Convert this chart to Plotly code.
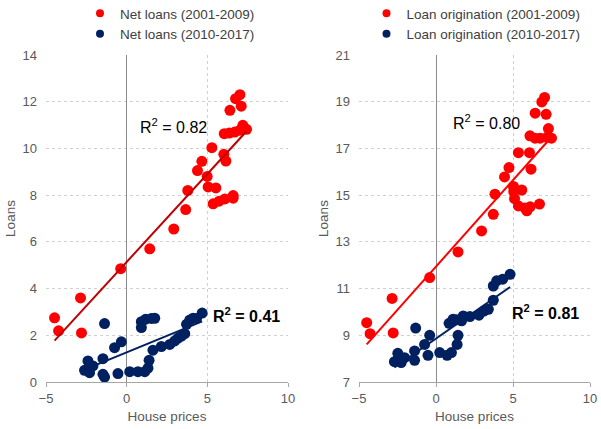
import numpy as np
import plotly.graph_objects as go

# ---------------- data ----------------
net_early_hp = [-4.47, -4.22, -2.86, -2.80, -0.37, 1.43, 2.92, 3.66, 3.79, 4.39, 4.66, 4.99,
                5.05, 5.28, 5.53, 5.36, 5.73, 6.09, 6.60, 6.60, 6.02, 6.15, 6.05, 6.36,
                6.70, 7.02, 7.20, 7.43, 7.10, 6.40, 6.75, 7.02]
net_early_loans = [2.75, 2.19, 3.60, 2.10, 4.85, 5.70, 6.55, 7.38, 8.20, 9.05, 9.45, 8.80,
                   8.35, 10.03, 8.31, 7.63, 7.74, 7.84, 7.98, 7.87, 9.75, 9.46, 10.63, 10.66,
                   10.70, 10.78, 10.99, 10.82, 11.81, 11.63, 12.13, 12.30]

net_late_hp = [-2.61, -2.30, -2.40, -2.09, -1.47, -1.47, -1.37, -1.37, -0.75, -0.33, -0.54,
               0.19, 0.70, 1.12, 1.32, 1.39, 1.63, 0.91, 0.91, 1.18, 1.53, 1.74, 2.15,
               2.67, 2.98, 3.19, 3.40, 3.60, 3.71, 3.91, 4.12, 4.33, 4.68]
net_late_loans = [0.50, 0.40, 0.90, 0.69, 1.00, 0.33, 0.21, 2.50, 1.47, 1.72, 0.36,
                  0.44, 0.44, 0.44, 0.59, 0.93, 1.36, 2.58, 2.33, 2.69, 2.72, 2.73, 1.52,
                  1.61, 1.76, 1.88, 1.97, 2.07, 2.47, 2.65, 2.73, 2.72, 2.95]

orig_early_hp = [-4.50, -4.28, -2.85, -2.78, -0.41, 1.43, 2.96, 3.72, 3.83, 4.45, 4.74, 5.03,
                 5.05, 5.10, 5.57, 5.35, 5.78, 5.90, 6.11, 6.72, 5.35, 6.07, 6.17, 6.10,
                 6.43, 6.76, 7.20, 7.50, 7.30, 6.44, 7.15, 6.87, 7.05]
orig_early_loans = [9.54, 9.07, 10.58, 9.10, 11.47, 12.57, 13.47, 14.18, 15.04, 15.78, 16.18, 15.37,
                    15.15, 14.85, 15.22, 14.54, 14.45, 14.33, 14.50, 14.62, 16.82, 16.82, 16.11, 17.54,
                    17.44, 17.44, 17.47, 17.44, 17.85, 18.51, 18.46, 18.99, 19.18]

orig_late_hp = [-2.70, -2.26, -2.04, -2.48, -2.50, -1.39, -1.39, -1.32, -0.74, -0.41, -0.52,
                0.24, 0.72, 1.00, 1.37, 1.43, 0.85, 1.11, 1.33, 1.66, 1.77, 2.20, 2.79,
                3.11, 3.40, 3.72, 3.72, 3.94, 4.33, 4.81]
orig_late_loans = [7.87, 7.83, 8.04, 8.23, 7.95, 8.33, 7.93, 9.31, 8.61, 9.00, 8.14,
                   8.26, 8.14, 8.26, 8.61, 9.00, 9.51, 9.69, 9.66, 9.62, 9.83, 9.80, 9.86,
                   10.04, 10.11, 10.50, 11.11, 11.33, 11.40, 11.61]

legend_names_left = ["Net loans (2001-2009)", "Net loans (2010-2017)"]
legend_names_right = ["Loan origination (2001-2009)", "Loan origination (2010-2017)"]
r2_labels = ["R<sup>2</sup> = 0.82", "<b>R<sup>2</sup> = 0.41</b>",
             "R<sup>2</sup> = 0.80", "<b>R<sup>2</sup> = 0.81</b>"]
x_ticks = [-5, 0, 5, 10]
y_ticks_left = [0, 2, 4, 6, 8, 10, 12, 14]
y_ticks_right = [7, 9, 11, 13, 15, 17, 19, 21]

RED = "#FF0000"
NAVY = "#002060"
FONT = "Liberation Sans, Arial, sans-serif"


def trend(x, y):
    x = np.asarray(x, float)
    y = np.asarray(y, float)
    b, a = np.polyfit(x, y, 1)
    xs = np.array([x.min(), x.max()])
    return xs, a + b * xs


fig = go.Figure()

series = [
    (net_early_hp, net_early_loans, RED, "#C00000", legend_names_left[0], "x", "y", "legend"),
    (net_late_hp, net_late_loans, NAVY, NAVY, legend_names_left[1], "x", "y", "legend"),
    (orig_early_hp, orig_early_loans, RED, RED, legend_names_right[0], "x2", "y2", "legend2"),
    (orig_late_hp, orig_late_loans, NAVY, NAVY, legend_names_right[1], "x2", "y2", "legend2"),
]

for xs_, ys_, mcol, lcol, name, xa, ya, lg in series:
    fig.add_trace(go.Scatter(x=xs_, y=ys_, mode="markers", name=name,
                             marker=dict(color=mcol, size=11), xaxis=xa, yaxis=ya,
                             legend=lg, showlegend=False))
    tx, ty = trend(xs_, ys_)
    fig.add_trace(go.Scatter(x=tx, y=ty, mode="lines", line=dict(color=lcol, width=2),
                             xaxis=xa, yaxis=ya, showlegend=False, hoverinfo="skip"))
    # legend entry (smaller dot like the original legend)
    fig.add_trace(go.Scatter(x=[None], y=[None], mode="markers", name=name,
                             marker=dict(color=mcol, size=8), xaxis=xa, yaxis=ya,
                             legend=lg, showlegend=True, legendgroup=name))

grid = dict(showgrid=True, gridcolor="#D0D0D0", griddash="dot", gridwidth=1)
tickfont = dict(family=FONT, size=13, color="#595959")
titlefont = dict(family=FONT, size=13.5, color="#595959")

xcommon = dict(range=[-5, 10], tickvals=x_ticks, showline=True, linecolor="#A6A6A6",
               linewidth=1, ticks="outside", ticklen=4, tickcolor="#A6A6A6",
               zeroline=True, zerolinecolor="#8C8C8C", zerolinewidth=1, automargin=False,
               tickfont=tickfont, title=dict(text="House prices", font=titlefont, standoff=6),
               **grid)
ycommon = dict(showline=False, zeroline=False, ticks="", ticklabelstandoff=8, automargin=False,
               tickfont=tickfont, title=dict(text="Loans", font=titlefont, standoff=3), **grid)

legend_style = dict(xanchor="center", y=1 + 2 / 429, yanchor="top",
                    bgcolor="rgba(0,0,0,0)", font=dict(family=FONT, size=13.5, color="#404040"),
                    traceorder="grouped", tracegroupgap=0, itemwidth=30)

fig.update_layout(
    width=601, height=429,
    margin=dict(l=0, r=0, t=0, b=0, autoexpand=False),
    paper_bgcolor="white", plot_bgcolor="white",
    font=dict(family=FONT, color="#404040"),
    xaxis=dict(domain=[46 / 601, 288 / 601], anchor="y", **xcommon),
    xaxis2=dict(domain=[359 / 601, 590 / 601], anchor="y2", **xcommon),
    yaxis=dict(domain=[47 / 429, 374 / 429], anchor="x", range=[0, 14], tickvals=y_ticks_left,
               **ycommon),
    yaxis2=dict(domain=[47 / 429, 374 / 429], anchor="x2", range=[7, 21], tickvals=y_ticks_right,
                **ycommon),
    legend=dict(x=170 / 601, **legend_style),
    legend2=dict(x=476 / 601, **legend_style),
)

ann_pos = [(0.70, 10.95, "x", "y"), (5.22, 2.89, "x", "y"),
           (1.00, 18.12, "x2", "y2"), (4.81, 9.99, "x2", "y2")]
for (ax, ay, xr, yr), txt in zip(ann_pos, r2_labels):
    fig.add_annotation(x=ax, y=ay, xref=xr, yref=yr, text=txt, showarrow=False,
                       xanchor="left", yanchor="middle",
                       font=dict(family=FONT, size=16, color="black"))

fig.write_html(
    "out.html",
    config={"displayModeBar": False},
    post_script="document.body.style.margin='0';document.body.style.overflow='hidden';",
)
